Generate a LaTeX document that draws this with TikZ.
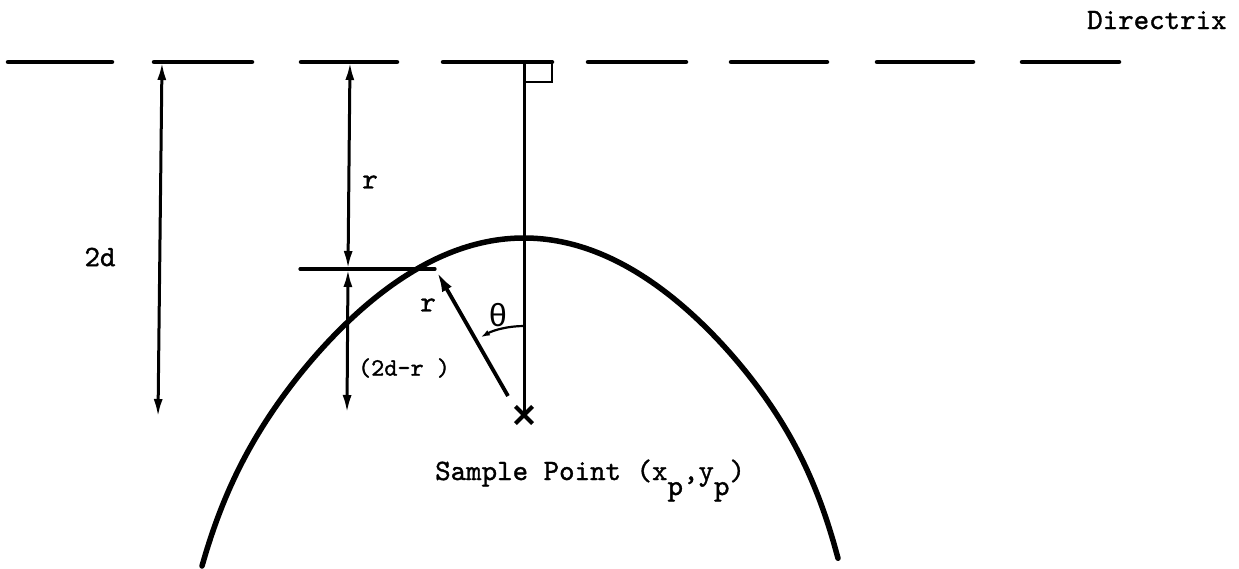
\documentclass[tikz,border=0pt]{standalone}
\usepackage{fontspec}
\newfontfamily\tw{lmmono10-regular}[Extension=.otf,FakeBold=1.2]
\newfontfamily\gr{Liberation Mono}
\usetikzlibrary{arrows.meta,shapes.misc}
\begin{document}
\begin{tikzpicture}[x=1pt,y=-1pt,
  dirline/.style={line width=4.5pt,line cap=round},
  dimarrow/.style={line width=3pt,{Latex[length=18pt,width=9pt]}-{Latex[length=18pt,width=9pt]}},
  thinline/.style={line width=3.2pt,line cap=round},
  lbl/.style={font=\tw\fontsize{29.5}{32}\selectfont,inner sep=0pt},
  lblsmall/.style={font=\tw\fontsize{25}{28}\selectfont,inner sep=0pt},
  curve/.style={line width=5.5pt,line cap=round,line join=round},
  xmark/.style={cross out,draw,minimum size=13pt,line width=4.2pt,inner sep=0pt}]
\useasboundingbox (0,0) rectangle (1239,568);
% directrix
\foreach \a/\b in {8/112,154/252,301/397,443/552,588/686,731/827,877/973,1022/1119}
  \draw[dirline] (\a,62) -- (\b,62);
\node[lbl,anchor=base west] (dirlabel) at (1087,29) {Directrix};
% 2d dimension
\coordinate (dtop) at (162,62);
\coordinate (dbot) at (158,417);
\draw[dimarrow] (dtop) -- (dbot);
\node[lbl] (l2d) at (100,257) {2d};
% r and (2d-r) dimensions
\coordinate (rtop) at (350,62);
\coordinate (rmid) at (348,269);
\coordinate (rbot) at (347,413);
\draw[dimarrow] (rtop) -- (rmid);
\draw[dimarrow] (rmid) -- (rbot);
\coordinate (hl) at (300,269);
\coordinate (hr) at (435,269);
\draw[thinline] (hl) -- (hr);
\node[lbl] (lr1) at (370,182) {r};
\node[lbl] (lr2) at (428,305) {r};
\node[lblsmall] (l2dr) at (404,368) {(2d-r )};
% parabola
\draw[curve] plot[domain=322:0,samples=70,smooth] ({524-\x},{238+0.0027*\x*\x+48*(\x/322)^12})
  -- plot[domain=0:314,samples=70,smooth] ({524+\x},{238+0.0027*\x*\x+54*(\x/314)^12});
% sample point and axis
\node[xmark] (sp) at (524,415) {};
\coordinate (foot) at (524,62);
\draw[line width=3pt] (foot) -- (sp.center);
\draw[line width=2.8pt] (524,82) -- (552,82) -- (552,62);
% radius arrow
\coordinate (rstart) at (508,396);
\coordinate (rtip) at (437,272);
\draw[line width=3.8pt,-{Latex[length=20pt,width=11pt]}] (rstart) -- (rtip);
% angle
\draw[line width=2.2pt,-{Latex[length=9pt,width=6pt]}] (sp.center) ++(-90:89) arc[start angle=-90,end angle=-119,radius=89];
\node[font=\gr\fontsize{32}{34}\selectfont,inner sep=0pt] (theta) at (498,315) {θ};
\node[lbl,anchor=base west] (splabel) at (435,480) {Sample Point (x\raisebox{-15pt}{p},y\raisebox{-15pt}{p})};
\end{tikzpicture}
\end{document}
